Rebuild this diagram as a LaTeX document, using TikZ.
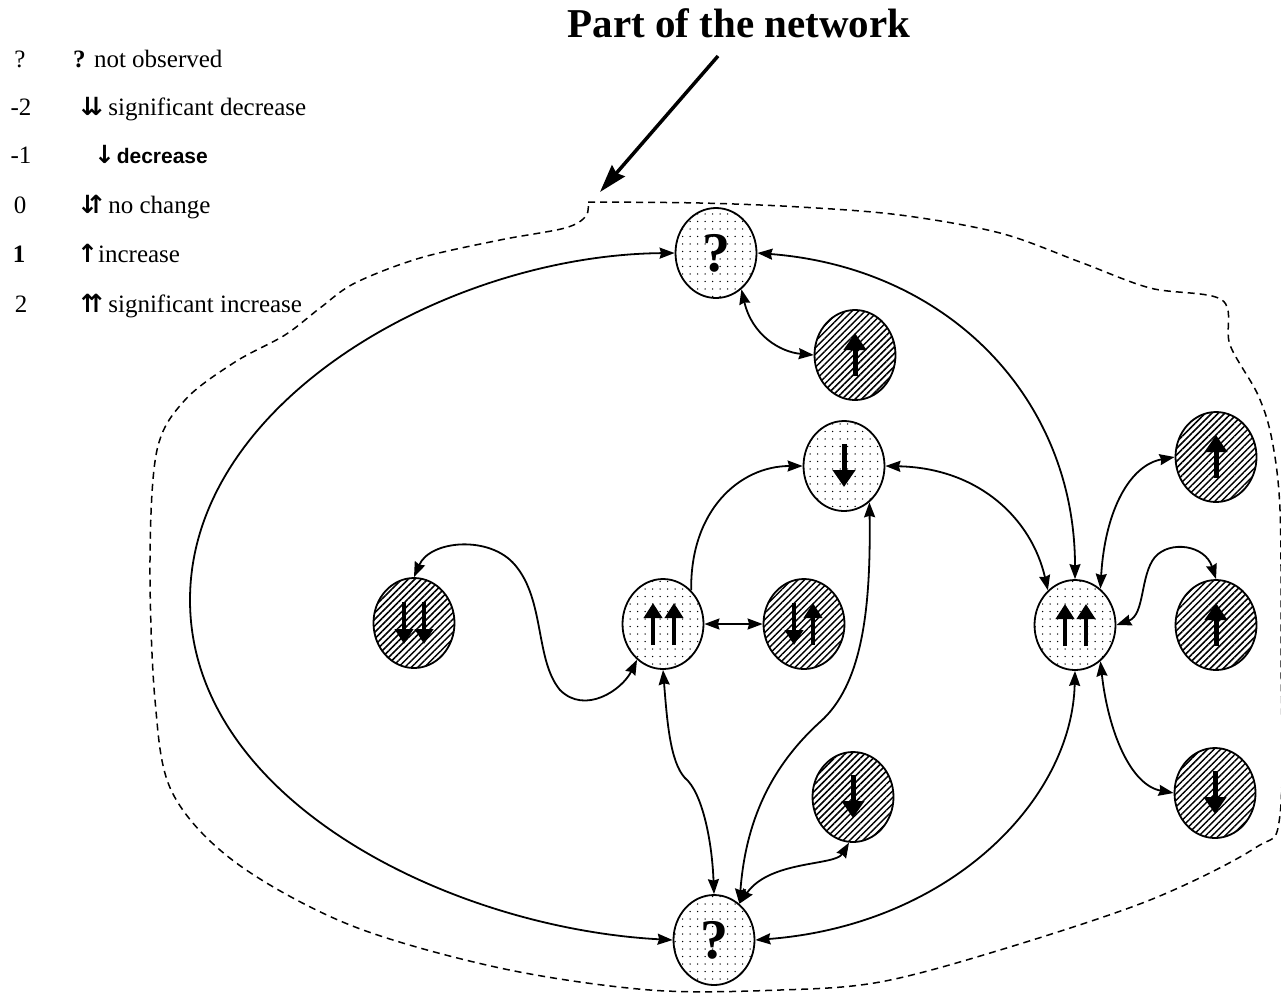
\documentclass[tikz,border=0pt]{standalone}
\usepackage{fontspec}
\setmainfont{Liberation Serif}
\newfontfamily\legsans{Liberation Sans}
\newfontfamily\arrowglyphs{DejaVu Sans}
\usetikzlibrary{arrows.meta,shapes.geometric,patterns.meta}

\newcommand\legarrows[1]{{\arrowglyphs\bfseries\fontsize{25}{30}\selectfont #1}}
\newcommand\pairkern{\kern-0.5em}

\tikzset{
  state/.style={ellipse, draw, line width=1.8pt, minimum width=81pt,
    minimum height=90pt, inner sep=0pt, preaction={fill=white}},
  dotstate/.style={state, pattern={Dots[distance=7.5pt,radius=0.75pt]}},
  hatchstate/.style={state, pattern={Lines[angle=45,distance=4.6pt,line width=1.5pt]}},
  qstate/.style={font=\bfseries\fontsize{56}{58}\selectfont},
  valarrow/.style={line width=5pt, -{Triangle[length=17pt,width=22pt]}},
  pairarrow/.style={line width=4.5pt, -{Triangle[length=15pt,width=18pt]}},
  link/.style={line width=1.8pt, <->},
  onelink/.style={line width=1.8pt, ->},
  border/.style={line width=1.5pt, dash pattern=on 7pt off 5pt},
  legnum/.style={anchor=base, inner sep=0pt, font=\fontsize{25}{30}\selectfont},
  legtext/.style={anchor=base west, inner sep=0pt, font=\fontsize{25}{30}\selectfont},
}

\begin{document}
\begin{tikzpicture}[x=1pt, y=-1pt, >={Stealth[length=15pt,width=11pt,inset=1.5pt]}]
\useasboundingbox (0,0) rectangle (1281,994);

% legend
\node[legnum] (l0n) at (20,67) {?};
\node[legtext] (l0t) at (73,67) {\textbf{?} not observed};
\node[legnum] (l1n) at (21,115) {-2};
\node[legtext] (l1t) at (77,115) {\legarrows{↓\pairkern↓}\kern-0.18em{} significant decrease};
\node[legnum] (l2n) at (21,163) {-1};
\node[anchor=base west, inner sep=0pt, font=\legsans\bfseries\fontsize{21}{25}\selectfont] (l2t) at (94,163) {\legarrows{↓}\kern-0.2em{} decrease};
\node[legnum] (l3n) at (20,213) {0};
\node[legtext] (l3t) at (77,213) {\legarrows{↓\pairkern↑}\kern-0.18em{} no change};
\node[legnum] (l4n) at (19,262) {\textbf{1}};
\node[legtext] (l4t) at (77,262) {\legarrows{↑}\kern-0.25em{} increase};
\node[legnum] (l5n) at (21,312) {2};
\node[legtext] (l5t) at (77,312) {\legarrows{↑\pairkern↑}\kern-0.18em{} significant increase};

% title and its pointer
\node[anchor=base, inner sep=0pt, font=\bfseries\fontsize{41}{48}\selectfont] (title) at (739,37) {Part of the network};
\coordinate (ptop) at (718,56);
\coordinate (ptip) at (600,192);
\draw[line width=3.5pt, -{Stealth[length=28pt,width=17pt,inset=3pt]}] (ptop) -- (ptip);

% dashed outline of the network part
\draw[border] plot[smooth, tension=0.55] coordinates {
  (588,202) (700,203) (800,207) (900,215) (1000,233) (1080,262) (1150,288)
  (1222,300) (1230,345) (1258,395) (1272,440) (1280,510) (1281,650) (1280,815)
  (1255,848) (1150,900) (1000,950) (880,982) (780,990) (650,990) (500,968)
  (350,925) (235,862) (172,792) (155,700) (150,560) (157,450) (185,400)
  (235,362) (285,335) (320,308) (355,283) (420,258) (500,240) (565,228)
  (586,216) (588,202)};

% states
\node[dotstate, qstate] (qt) at (716,253) {?};
\node[hatchstate] (hu1) at (855,355) {};
\node[dotstate] (dd) at (844,466) {};
\node[hatchstate] (hu2) at (1216,457) {};
\node[hatchstate] (hdd) at (414,623) {};
\node[dotstate] (uu1) at (663,624) {};
\node[hatchstate] (hdu) at (804,624) {};
\node[dotstate] (uu2) at (1075,625) {};
\node[hatchstate] (hu3) at (1216,625) {};
\node[hatchstate] (hd1) at (853,797) {};
\node[hatchstate] (hd2) at (1215,793) {};
\node[dotstate, qstate] (qb) at (714,940) {?};

% value arrows inside the states
\draw[valarrow] ([yshift=-21pt]hu1.center) -- ([yshift=22pt]hu1.center);
\draw[valarrow] ([yshift=-21pt]hu2.center) -- ([yshift=22pt]hu2.center);
\draw[valarrow] ([yshift=-21pt]hu3.center) -- ([yshift=22pt]hu3.center);
\draw[valarrow] ([yshift=22pt]dd.center) -- ([yshift=-21pt]dd.center);
\draw[valarrow] ([yshift=22pt]hd1.center) -- ([yshift=-21pt]hd1.center);
\draw[valarrow] ([yshift=22pt]hd2.center) -- ([yshift=-21pt]hd2.center);
\draw[pairarrow] ([xshift=-10pt,yshift=21pt]hdd.center) -- ([xshift=-10pt,yshift=-21pt]hdd.center);
\draw[pairarrow] ([xshift=10pt,yshift=21pt]hdd.center) -- ([xshift=10pt,yshift=-21pt]hdd.center);
\draw[pairarrow] ([xshift=-10pt,yshift=-21pt]uu1.center) -- ([xshift=-10pt,yshift=21pt]uu1.center);
\draw[pairarrow] ([xshift=11pt,yshift=-21pt]uu1.center) -- ([xshift=11pt,yshift=21pt]uu1.center);
\draw[pairarrow] ([xshift=-10pt,yshift=-21pt]uu2.center) -- ([xshift=-10pt,yshift=21pt]uu2.center);
\draw[pairarrow] ([xshift=11pt,yshift=-21pt]uu2.center) -- ([xshift=11pt,yshift=21pt]uu2.center);
\draw[pairarrow] ([xshift=-10pt,yshift=21pt]hdu.center) -- ([xshift=-10pt,yshift=-21pt]hdu.center);
\draw[pairarrow] ([xshift=9pt,yshift=-21pt]hdu.center) -- ([xshift=9pt,yshift=21pt]hdu.center);

% interactions
\draw[link] (qt.west) .. controls (450,255) and (190,400) .. (190,600)
  .. controls (190,800) and (450,928) .. (qb.west);
\draw[link] (qt.east) .. controls (950,268) and (1075,400) .. (uu2.north);
\draw[link] (qt.-55) .. controls (752,335) and (780,352) .. (hu1.west);
\draw[link] (dd.east) .. controls (980,468) and (1032,520) .. (uu2.128);
\draw[onelink] (uu1.50) .. controls (690,510) and (740,466) .. (dd.west);
\draw[link] (uu1.east) -- (hdu.west);
\draw[link] (hdd.north) .. controls (430,540) and (490,535) .. (515,565)
  .. controls (545,600) and (535,660) .. (560,690)
  .. controls (585,715) and (622,690) .. (uu1.-126);
\draw[link] (uu1.south) .. controls (667,720) and (670,762) .. (685,778)
  .. controls (702,792) and (712,840) .. (qb.north);
\draw[link] (dd.-55) .. controls (871,610) and (862,685) .. (820,722)
  .. controls (765,772) and (745,830) .. (qb.55);
\draw[link] (hd1.-95) .. controls (835,866) and (770,860) .. (qb.55);
\draw[link] (qb.east) .. controls (950,925) and (1072,800) .. (uu2.south);
\draw[link] (uu2.-55) .. controls (1108,730) and (1130,785) .. (hd2.west);
\draw[link] (uu2.55) .. controls (1105,510) and (1130,465) .. (hu2.west);
\draw[link] (uu2.east) .. controls (1145,615) and (1140,575) .. (1155,557)
  .. controls (1170,540) and (1205,545) .. (hu3.north);
\end{tikzpicture}
\end{document}
